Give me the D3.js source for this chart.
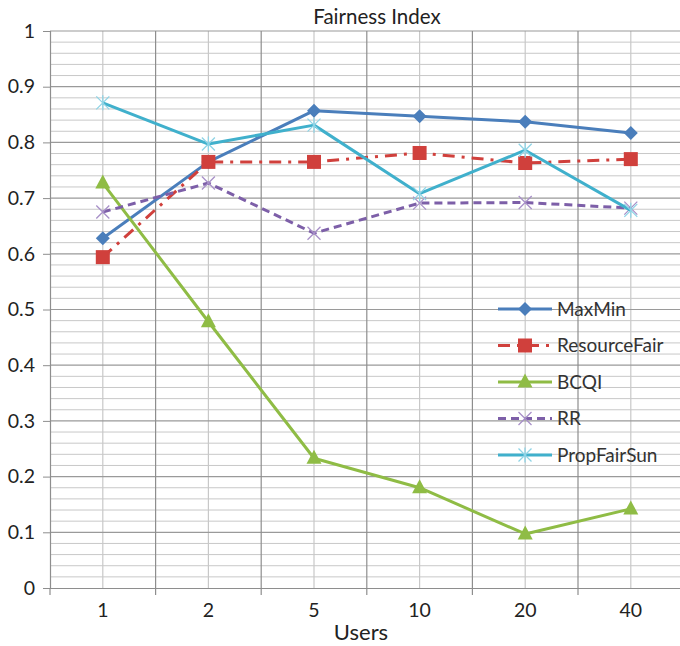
<!DOCTYPE html>
<html>
<head>
<meta charset="utf-8">
<script src="https://cdn.jsdelivr.net/npm/d3@7/dist/d3.min.js"></script>
<style>
  html, body { margin: 0; padding: 0; background: #fff; }
  svg { display: block; font-family: Lato, "Open Sans", sans-serif; }
</style>
</head>
<body>
<svg id="chart" width="680" height="646"></svg>
<script>
// Fairness index per scheduler for each number of users
const users = ["1", "2", "5", "10", "20", "40"];
const maxMin       = [0.628, 0.765, 0.857, 0.847, 0.837, 0.817];
const resourceFair = [0.594, 0.765, 0.765, 0.781, 0.763, 0.770];
const bcqi         = [0.727, 0.478, 0.233, 0.180, 0.097, 0.142];
const rr           = [0.675, 0.727, 0.637, 0.691, 0.692, 0.682];
const propFairSun  = [0.871, 0.797, 0.831, 0.708, 0.786, 0.678];
const seriesNames  = ["MaxMin", "ResourceFair", "BCQI", "RR", "PropFairSun"];
const yTicks = [0, 0.1, 0.2, 0.3, 0.4, 0.5, 0.6, 0.7, 0.8, 0.9, 1];

const series = [
  { name: seriesNames[0], values: maxMin,       color: "#4a7ebb", dash: null,       marker: "diamond" },
  { name: seriesNames[1], values: resourceFair, color: "#d0403c", dash: "12,7,3,7", marker: "square" },
  { name: seriesNames[2], values: bcqi,         color: "#8fbc45", dash: null,       marker: "triangle" },
  { name: seriesNames[3], values: rr,           color: "#7d5fa8", dash: "8,5",      marker: "x" },
  { name: seriesNames[4], values: propFairSun,  color: "#40b0cc", dash: null,       marker: "star" }
];

const svg = d3.select("#chart");
const plotLeft = 50, plotRight = 683.6, plotTop = 31, plotBottom = 588;

const x = d3.scaleBand().domain(users).range([plotLeft, plotRight]).padding(0);
const y = d3.scaleLinear().domain([0, 1]).range([plotBottom, plotTop]);
const cx = d => x(d) + x.bandwidth() / 2;

// minor horizontal grid every 0.02
const minor = d3.range(0, 51).map(i => i / 50).filter((v, i) => i % 5 !== 0);
svg.append("g").selectAll("line").data(minor).join("line")
  .attr("x1", plotLeft).attr("x2", plotRight)
  .attr("y1", d => y(d)).attr("y2", d => y(d))
  .attr("stroke", "#c8c8c8").attr("stroke-width", 1);

// vertical grid at category centers (light) and boundaries (dark)
svg.append("g").selectAll("line").data(users).join("line")
  .attr("x1", cx).attr("x2", cx)
  .attr("y1", plotTop).attr("y2", plotBottom)
  .attr("stroke", "#c8c8c8").attr("stroke-width", 1.2);

// major horizontal grid every 0.1
svg.append("g").selectAll("line").data(yTicks.slice(1)).join("line")
  .attr("x1", plotLeft).attr("x2", plotRight)
  .attr("y1", d => y(d)).attr("y2", d => y(d))
  .attr("stroke", "#9a9a9a").attr("stroke-width", 1.2);

svg.append("g").selectAll("line").data(users.slice(1)).join("line")
  .attr("x1", d => x(d)).attr("x2", d => x(d))
  .attr("y1", plotTop).attr("y2", plotBottom)
  .attr("stroke", "#8e8e8e").attr("stroke-width", 1.2);

// axes
const yAxis = d3.axisLeft(y).tickValues(yTicks).tickSize(7).tickPadding(8)
  .tickFormat(d => d3.format("~g")(d));
const gy = svg.append("g").attr("transform", `translate(${plotLeft},0)`).call(yAxis);
gy.select(".domain").attr("stroke", "#8e8e8e").attr("stroke-width", 1.2);
gy.selectAll(".tick line").attr("stroke", "#8e8e8e");
gy.selectAll("text").attr("font-size", 19.5).attr("fill", "#222").attr("font-family", "Lato, sans-serif");

const xAxis = d3.axisBottom(x).tickSize(0).tickPadding(15);
const gx = svg.append("g").attr("transform", `translate(0,${plotBottom})`).call(xAxis);
gx.select(".domain").attr("stroke", "#8e8e8e").attr("stroke-width", 1.2);
gx.selectAll("text").attr("font-size", 19.5).attr("fill", "#222").attr("font-family", "Lato, sans-serif");
// tick marks between categories
svg.append("g").selectAll("line").data(users).join("line")
  .attr("x1", d => x(d)).attr("x2", d => x(d))
  .attr("y1", plotBottom).attr("y2", plotBottom + 7)
  .attr("stroke", "#8e8e8e").attr("stroke-width", 1.2);

// titles
svg.append("text").attr("x", 377).attr("y", 24).attr("text-anchor", "middle")
  .attr("font-size", 20.5).attr("fill", "#222").text("Fairness Index");
svg.append("text").attr("x", 361).attr("y", 640).attr("text-anchor", "middle")
  .attr("font-size", 22).attr("fill", "#222").text("Users");

// marker drawing
function drawMarker(g, type, color) {
  if (type === "diamond") {
    g.append("path").attr("d", "M0,-7L7,0L0,7L-7,0Z").attr("fill", color);
  } else if (type === "square") {
    g.append("rect").attr("x", -7).attr("y", -7).attr("width", 14).attr("height", 14).attr("fill", color);
  } else if (type === "triangle") {
    g.append("path").attr("d", "M0,-8.5L7.5,5.5L-7.5,5.5Z").attr("fill", color);
  } else if (type === "x") {
    g.append("path").attr("d", "M-6.5,-6.5L6.5,6.5M-6.5,6.5L6.5,-6.5").attr("stroke", "#a890c8").attr("stroke-width", 1.3).attr("fill", "none");
  } else if (type === "star") {
    g.append("path").attr("d", "M-6.5,-6.5L6.5,6.5M-6.5,6.5L6.5,-6.5M0,-7.5L0,7.5").attr("stroke", "#8fd4e6").attr("stroke-width", 1.3).attr("fill", "none");
  }
}

const line = d3.line()
  .x((d, i) => cx(users[i]))
  .y(d => y(d));

series.forEach(s => {
  svg.append("path").datum(s.values)
    .attr("d", line)
    .attr("fill", "none")
    .attr("stroke", s.color)
    .attr("stroke-width", 3)
    .attr("stroke-linejoin", "round")
    .attr("stroke-dasharray", s.dash);
  s.values.forEach((v, i) => {
    const g = svg.append("g").attr("transform", `translate(${cx(users[i])},${y(v)})`);
    drawMarker(g, s.marker, s.color);
  });
});

// legend
const legend = svg.append("g").attr("transform", "translate(498,309)");
series.forEach((s, i) => {
  const g = legend.append("g").attr("transform", `translate(0,${i * 36.5})`);
  g.append("line").attr("x1", 0).attr("x2", 54).attr("y1", 0).attr("y2", 0)
    .attr("stroke", s.color).attr("stroke-width", 3).attr("stroke-dasharray", s.dash);
  const m = g.append("g").attr("transform", "translate(27,0)");
  drawMarker(m, s.marker, s.color);
  g.append("text").attr("x", 59).attr("y", 6.5).attr("font-size", 19).attr("fill", "#333").text(s.name);
});
</script>
</body>
</html>
